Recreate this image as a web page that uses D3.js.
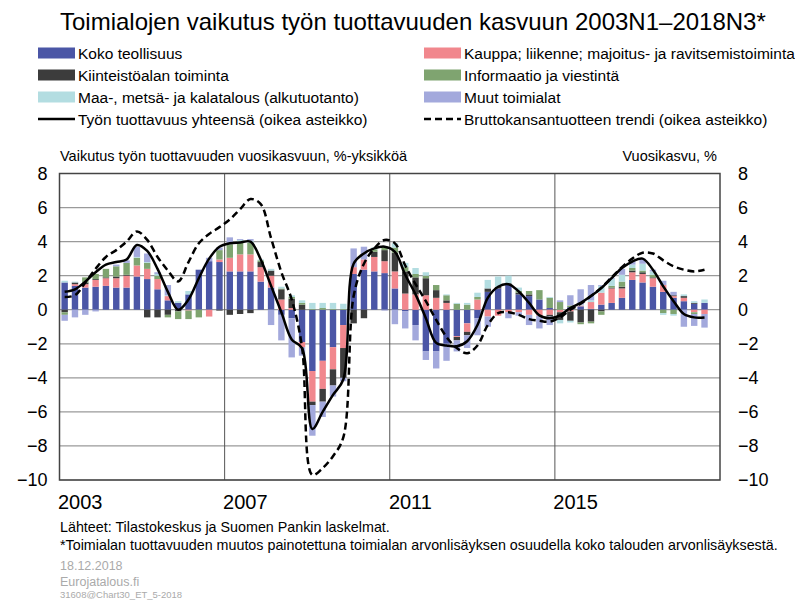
<!DOCTYPE html>
<html><head><meta charset="utf-8">
<script src="https://cdn.jsdelivr.net/npm/d3@7/dist/d3.min.js"></script>
<style>
html,body{margin:0;padding:0;background:#fff;}
svg{display:block;font-family:"Liberation Sans",Arial,sans-serif;}
</style></head>
<body><svg id="chart" width="795" height="601"></svg>
<script>
// ---- data ----
const years = [2003,2004,2005,2006,2007,2008,2009,2010,2011,2012,2013,2014,2015,2016,2017,2018];
const quarterNames = ["N1","N2","N3","N4"];
const tickYears = [2003, 2007, 2011, 2015];
const yTicks = [8,6,4,2,0,-2,-4,-6,-8,-10];

const kokoTeollisuus = [1.6,1.4,1.3,1.35,1.4,1.3,1.3,1.95,1.8,1.2,0.55,0.4,0.9,2.35,2.85,2.8,
  2.25,2.25,2.25,1.65,1.3,-0.3,-0.5,-1.9,-3.6,-3.0,-2.2,-0.9,2.1,2.35,2.25,2.15,
  1.25,-0.1,-0.9,-2.45,-2.45,-2.0,-1.55,-0.8,-0.5,1.05,1.25,1.45,0.9,0.8,0.6,0.1,
  0,0.15,0.2,0.05,0.3,0.4,0.7,1.75,1.6,1.35,1.05,0.7,0.5,0.35,0.4];
const kauppa = [0,0.1,0.2,0.4,0.45,0.55,0.7,0.65,0.6,0.6,0.25,0,-0.05,0,-0.4,0.15,
  0.8,1.0,1.0,0.85,0.7,0.6,0.1,-0.3,-1.8,-1.65,-1.3,-1.35,0.4,0.6,0.85,0.7,
  1.0,0.95,0.9,0.85,0.7,0.4,-0.05,-0.5,0.6,-0.4,-0.35,-0.15,-0.15,-0.3,-0.35,-0.3,
  -0.15,-0.1,0.05,0.4,0.7,0.85,0.55,0.45,0.5,0.5,0.4,0.1,0.2,-0.15,-0.25];
const kiinteisto = [-0.15,0.1,0.1,0.05,0.05,0.1,0.05,0,-0.45,-0.45,-0.3,-0.1,0,0,0,-0.05,
  -0.3,-0.25,-0.2,0.3,0.3,0.6,0.55,0.3,-0.2,-0.75,-0.95,-1.75,-0.8,-0.5,0.3,0.65,
  1.1,1.3,1.0,1.0,0.45,0.15,-0.2,-0.2,0,0.2,0.1,0.1,0.1,0.1,0,-0.1,
  -0.45,-0.55,-0.75,-0.7,-0.1,0.05,0.1,0.1,0.1,0.05,0,0.05,0.1,0.05,0];
const informaatio = [-0.15,0,0.3,0.3,0.5,0.6,0.7,0.45,0.35,0.2,-0.15,-0.45,-0.5,-0.45,0,0.55,
  0.8,0.75,0.7,0.1,0,0.05,0.1,0.1,0.05,0.1,0.05,0.05,0,0,0.15,0.2,
  0.3,0.25,0.2,0.15,0.3,0.3,0.35,0.3,0.15,0,0,0,0.1,0.2,0.55,0.6,
  0.45,0.1,-0.1,-0.1,-0.2,0.1,0.3,0.15,0.1,0.15,-0.2,-0.25,0,-0.1,0];
const maatalous = [0.1,0.05,0,0,0,0,0,0.05,0.05,0.1,0.05,0.1,0.2,0,0,0,
  0,0.1,0.1,0.05,0.1,0.1,0.1,0.15,0.35,0.3,0.35,0.3,0,0,0.1,0,
  0.25,0.25,0.35,0.2,0,0.05,0.05,0.1,0.25,0.5,0.6,0.45,0.2,0,0,0.05,
  -0.2,-0.1,0.05,0.1,0.4,0.4,0.4,0.2,0.4,0.2,-0.1,-0.1,0.1,0.1,0.2];
const muut = [-0.35,-0.45,-0.3,-0.1,0,0.1,0.15,0.6,0.5,0.1,0.6,0,0,0,0.2,0.15,
  0.4,0.05,0.1,0,-0.9,-1.5,-2.3,-0.5,-1.8,-0.9,-0.65,-0.2,1.1,0.75,0,-0.05,
  -0.85,-1.0,-0.9,-0.5,-1.0,-1.0,-0.65,-0.75,-1.0,-0.6,0,-0.35,-0.2,-0.6,-0.75,-0.5,
  0.1,0.6,0.9,0.9,0.05,0.05,0.35,0.2,0.3,0.1,0.25,0.2,-1.0,-0.7,-0.8];
const tuottavuus = [1.05,1.2,1.65,2.2,2.65,2.8,2.95,3.8,3.45,2.4,1.05,0.0,0.6,1.85,3.0,3.7,
  3.9,3.95,4.0,2.95,1.4,-0.15,-1.75,-2.25,-7.0,-6.0,-5.0,-4.1,2.7,3.3,3.6,3.7,
  3.4,2.05,0.9,-0.5,-1.95,-2.1,-2.15,-1.85,-0.9,0.7,1.35,1.5,1.07,0.4,-0.33,-0.5,
  -0.33,0.1,0.4,0.8,1.27,1.85,2.45,2.83,3.0,2.35,1.37,0.5,-0.25,-0.45,-0.45];
const bktTrendi = [0.75,0.85,1.6,2.4,3.1,3.5,4.0,4.6,4.1,3.1,2.3,1.66,2.8,3.9,4.45,4.85,
  5.3,5.9,6.5,6.2,4.2,2.2,0.6,-2.2,-9.7,-9.3,-8.6,-7.5,0.8,2.7,3.6,4.1,
  3.9,2.6,1.5,0.5,-0.6,-1.6,-2.25,-2.55,-2.1,-0.9,-0.2,-0.15,-0.3,-0.55,-0.65,-0.7,
  -0.45,0.0,0.35,0.8,1.3,1.9,2.5,3.0,3.35,3.3,2.9,2.55,2.35,2.25,2.35];

const seriesNames = ["Koko teollisuus","Kauppa; liikenne; majoitus- ja ravitsemistoiminta","Kiinteistöalan toiminta","Informaatio ja viestintä","Maa-, metsä- ja kalatalous (alkutuotanto)","Muut toimialat"];
const seriesValues = [kokoTeollisuus,kauppa,kiinteisto,informaatio,maatalous,muut];
const seriesColors = ["#4b56a6","#f1878d","#3c3c3c","#7fa470","#b3dde1","#a3a9dc"];

// ---- build ----
const slots = [];
years.forEach(y => quarterNames.forEach(q => slots.push(y + q)));
const periods = slots.slice(0, kokoTeollisuus.length);
const keys = seriesNames.map((d,i)=>"s"+i);
const rows = periods.map((p,i)=>{const r={period:p}; keys.forEach((k,j)=>r[k]=seriesValues[j][i]); return r;});

const svg = d3.select("#chart");
const L=59.5, R=720, T=173.5, B=480;
const x = d3.scaleBand().domain(slots).range([L,R]).paddingInner(0.38).paddingOuter(0.19);
const xs = d3.scaleBand().domain(slots).range([L,R]).padding(0);
const y = d3.scaleLinear().domain([-10,8]).range([B,T]);

// title
svg.append("text").attr("x",60).attr("y",30).attr("font-size",24).attr("fill","#000")
  .text("Toimialojen vaikutus työn tuottavuuden kasvuun 2003N1–2018N3*");

// legend
const legItems = [
  {t:seriesNames[0],c:seriesColors[0]},{t:seriesNames[1],c:seriesColors[1]},
  {t:seriesNames[2],c:seriesColors[2]},{t:seriesNames[3],c:seriesColors[3]},
  {t:seriesNames[4],c:seriesColors[4]},{t:seriesNames[5],c:seriesColors[5]},
  {t:"Työn tuottavuus yhteensä (oikea asteikko)",line:true},
  {t:"Bruttokansantuotteen trendi (oikea asteikko)",line:true,dash:true}
];
legItems.forEach((d,i)=>{
  const col=i%2, row=Math.floor(i/2);
  const gx = col===0?38:424, gy = 53+row*22;
  const g = svg.append("g").attr("transform",`translate(${gx},${gy})`);
  if(d.line){
    g.append("line").attr("x1",0).attr("x2",37).attr("y1",0).attr("y2",0)
      .attr("stroke","#000").attr("stroke-width",2.5).attr("stroke-dasharray",d.dash?"7,4":null);
  } else {
    g.append("rect").attr("x",0).attr("y",-5.5).attr("width",37).attr("height",11).attr("fill",d.c);
  }
  g.append("text").attr("x",40).attr("y",5.5).attr("font-size",15.5).text(d.t);
});

// axis headers
svg.append("text").attr("x",60).attr("y",161).attr("font-size",14.5).text("Vaikutus työn tuottavuuden vuosikasvuun, %-yksikköä");
svg.append("text").attr("x",717).attr("y",161).attr("font-size",14.5).attr("text-anchor","end").text("Vuosikasvu, %");

// grid
svg.append("g").selectAll("line").data(yTicks).join("line")
  .attr("x1",L).attr("x2",R).attr("y1",d=>y(d)).attr("y2",d=>y(d))
  .attr("stroke","#9a9a9a").attr("stroke-width",1.2);
svg.append("g").selectAll("line").data(tickYears.slice(1)).join("line")
  .attr("x1",d=>xs(d+"N1")).attr("x2",d=>xs(d+"N1")).attr("y1",T).attr("y2",B)
  .attr("stroke","#555").attr("stroke-width",1);

// bars
const stacked = d3.stack().keys(keys).offset(d3.stackOffsetDiverging)(rows);
svg.append("g").selectAll("g").data(stacked).join("g").attr("fill",(d,i)=>seriesColors[i])
  .selectAll("rect").data(d=>d).join("rect")
  .attr("x",d=>x(d.data.period)).attr("width",x.bandwidth())
  .attr("y",d=>y(Math.max(d[0],d[1]))).attr("height",d=>Math.abs(y(d[0])-y(d[1])));

// lines
const cx = p => xs(p)+xs.bandwidth()/2;
const lineGen = d3.line().x((d,i)=>cx(periods[i])).y(d=>y(d)).curve(d3.curveCatmullRom.alpha(0.5));
svg.append("path").attr("d",lineGen(bktTrendi)).attr("fill","none").attr("stroke","#000")
  .attr("stroke-width",2.5).attr("stroke-dasharray","7,4");
svg.append("path").attr("d",lineGen(tuottavuus)).attr("fill","none").attr("stroke","#000")
  .attr("stroke-width",2.5);

// frame
svg.append("rect").attr("x",L).attr("y",T).attr("width",R-L).attr("height",B-T)
  .attr("fill","none").attr("stroke","#444").attr("stroke-width",1.5);

// y axis labels
const yl = d3.axisLeft(y).tickValues(yTicks).tickSize(0).tickPadding(12);
const gl = svg.append("g").attr("transform",`translate(${L},0)`).call(yl);
const gr = svg.append("g").attr("transform",`translate(${R},0)`).call(d3.axisRight(y).tickValues(yTicks).tickSize(0).tickPadding(18));
[gl,gr].forEach(g=>{g.select(".domain").remove(); g.selectAll("text").attr("font-size",18).attr("font-family","Liberation Sans, Arial, sans-serif").attr("fill","#000");});

// x labels
svg.append("g").selectAll("text").data(tickYears).join("text")
  .attr("x",d=>xs(d+"N3")).attr("y",509).attr("text-anchor","middle").attr("font-size",20)
  .text(d=>d);

// footer
svg.append("text").attr("x",60).attr("y",532).attr("font-size",14.3).text("Lähteet: Tilastokeskus ja Suomen Pankin laskelmat.");
svg.append("text").attr("x",60).attr("y",550).attr("font-size",14.3).text("*Toimialan tuottavuuden muutos painotettuna toimialan arvonlisäyksen osuudella koko talouden arvonlisäyksestä.");
svg.append("text").attr("x",60).attr("y",570).attr("font-size",12.5).attr("fill","#aaa").text("18.12.2018");
svg.append("text").attr("x",60).attr("y",586).attr("font-size",12.5).attr("fill","#aaa").text("Eurojatalous.fi");
svg.append("text").attr("x",60).attr("y",598).attr("font-size",9.5).attr("fill","#aaa").text("31608@Chart30_ET_5-2018");
</script></body></html>
